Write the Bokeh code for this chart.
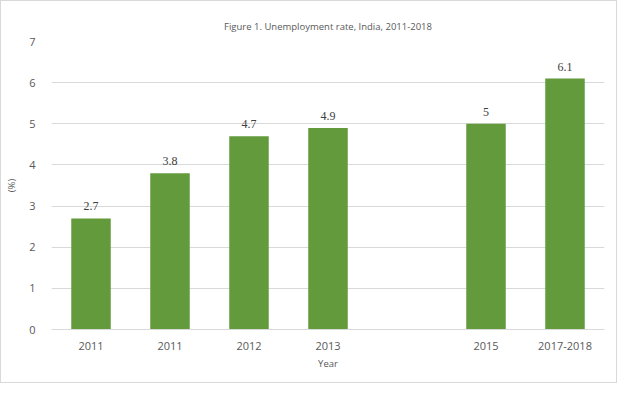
from bokeh.plotting import figure
from bokeh.models import ColumnDataSource, FixedTicker, LabelSet, Range1d
from bokeh.embed import file_html
from bokeh.resources import INLINE

categories = ["2011", "2011", "2012", "2013", "", "2015", "2017-2018"]
rates = [2.7, 3.8, 4.7, 4.9, None, 5.0, 6.1]
y_ticks = [0, 1, 2, 3, 4, 5, 6, 7]

xs, tops, labels = [], [], []
for i, (c, v) in enumerate(zip(categories, rates)):
    if v is not None:
        xs.append(i)
        tops.append(v)
        labels.append(f"{v:g}")
src = ColumnDataSource(dict(x=xs, top=tops, label=labels))

FONT = "Open Sans"
TXT = "#595959"

p = figure(width=617, height=383, output_backend="svg", toolbar_location=None,
           x_range=Range1d(-0.5, len(categories) - 0.5), y_range=Range1d(0, 7),
           title="Figure 1. Unemployment rate, India, 2011-2018",
           min_border_left=50, min_border_right=14, min_border_top=40, min_border_bottom=55)
p.styles = {"border": "1px solid #d9d9d9", "box-sizing": "border-box"}

p.vbar(x="x", top="top", width=0.5, source=src, color="#639a3c", line_color=None)
p.add_layout(LabelSet(x="x", y="top", text="label", source=src, text_align="center",
                      text_baseline="bottom", y_offset=8, text_font=FONT,
                      text_font_size="12px", text_color="#404040"))

p.title.align = "center"
p.title.text_font = FONT
p.title.text_font_size = "9.5px"
p.title.text_font_style = "normal"
p.title.text_color = TXT
p.title.standoff = 17

p.outline_line_color = None
p.background_fill_color = "white"
p.border_fill_color = "white"

p.xgrid.grid_line_color = None
p.ygrid.grid_line_color = "#d9d9d9"
p.ygrid.ticker = FixedTicker(ticks=y_ticks)

p.xaxis.ticker = FixedTicker(ticks=[i for i, c in enumerate(categories) if c])
p.xaxis.major_label_overrides = {i: c for i, c in enumerate(categories) if c}
p.yaxis.ticker = FixedTicker(ticks=y_ticks)

for ax in (p.xaxis[0], p.yaxis[0]):
    ax.major_tick_line_color = None
    ax.minor_tick_line_color = None
    ax.major_label_text_font = FONT
    ax.major_label_text_font_size = "11px"
    ax.major_label_text_color = TXT
    ax.axis_label_text_font = FONT
    ax.axis_label_text_font_size = "9.5px"
    ax.axis_label_text_font_style = "normal"
    ax.axis_label_text_color = TXT
p.xaxis.axis_line_color = "#d9d9d9"
p.yaxis.axis_line_color = None
p.xaxis.axis_label = "Year"
p.yaxis.axis_label = "(%)"
p.xaxis.major_label_standoff = 6
p.xaxis.axis_label_standoff = 4
p.yaxis.major_label_standoff = 10
p.yaxis.axis_label_standoff = 8

open("out.html", "w").write(file_html(p, INLINE))
